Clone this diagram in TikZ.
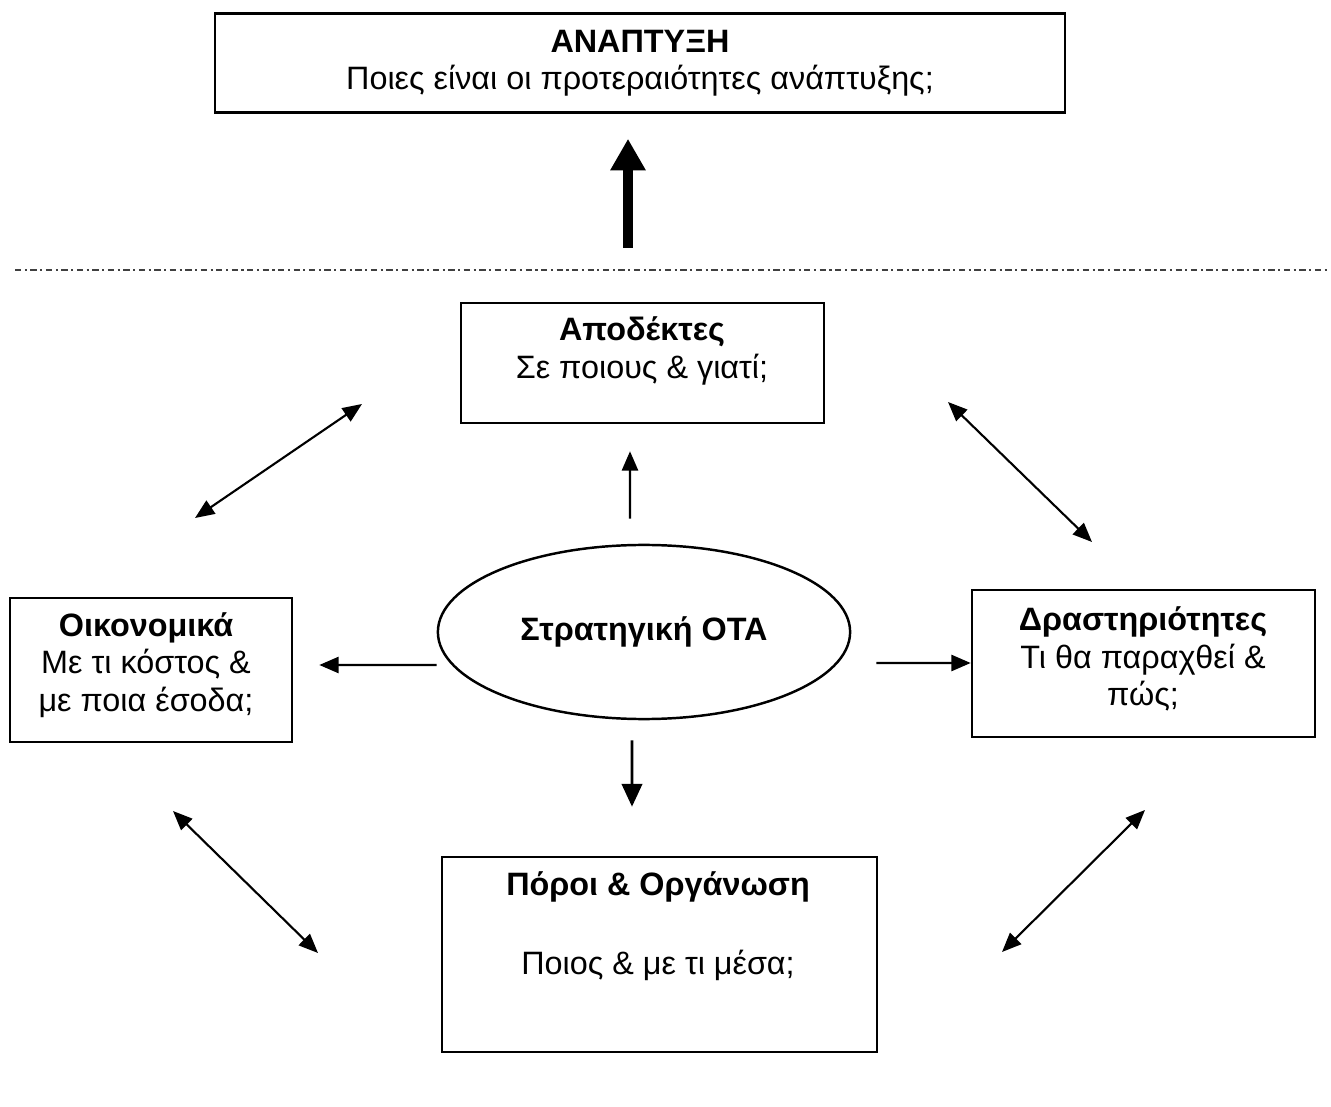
\documentclass[tikz,border=0pt]{standalone}
\usepackage{fontspec}
\setmainfont{Liberation Sans}
\usetikzlibrary{arrows.meta,shapes.geometric,positioning}
\begin{document}
\begin{tikzpicture}[x=0.01cm,y=-0.01cm,
  box/.style={draw,rectangle,line width=0.7pt,inner sep=0pt},
  txt/.style={align=center,font=\fontsize{9.2}{10.6}\selectfont,inner sep=0pt},
  arr/.style={-{Triangle[length=5.5pt,width=4.6pt]},line width=0.6pt},
  dbl/.style={{Triangle[length=5.5pt,width=4.5pt]}-{Triangle[length=5.5pt,width=4.5pt]},line width=0.6pt}]
\useasboundingbox (0,0) rectangle (1331,1107);
% top box
\node[box,minimum width=8.5cm,minimum height=0.99cm] (dev) at (640,63) {};
\node[txt] (devt) at (640,63) {\textbf{ΑΝΑΠΤΥΞΗ}\\Ποιες είναι οι προτεραιότητες ανάπτυξης;};
\coordinate (up0) at (628,248);
\draw[line width=2.8pt,-{Triangle[length=9pt,width=9.5pt]},shorten >=0.25cm] (up0) -- ([xshift=-0.12cm]dev.south);
\draw[line width=0.5pt,black!75,dash pattern=on 1.8pt off 1pt on 0.6pt off 1pt] (15,270) -- (1330,270);
% the four boxes
\node[box,minimum width=3.63cm,minimum height=1.2cm] (rcp) at (642.5,363) {};
\node[txt] (rcpt) at (642,351) {\textbf{Αποδέκτες}\\Σε ποιους \& γιατί;};
\node[box,minimum width=2.82cm,minimum height=1.44cm] (fin) at (151,670) {};
\node[txt] (fint) at (146,665) {\textbf{Οικονομικά}\\Με τι κόστος \&\\με ποια έσοδα;};
\node[box,minimum width=3.43cm,minimum height=1.47cm] (act) at (1143.5,663.5) {};
\node[txt] (actt) at (1143,659) {\textbf{Δραστηριότητες}\\Τι θα παραχθεί \&\\πώς;};
\node[box,minimum width=4.35cm,minimum height=1.95cm] (res) at (659.5,954.5) {};
\node[txt] (rest) at (658,887) {\textbf{Πόροι \& Οργάνωση}};
\node[txt] (resq) at (658,965) {Ποιος \& με τι μέσα;};
% centre
\node[draw,ellipse,line width=0.7pt,minimum width=4.12cm,minimum height=1.74cm,txt] (ota) at (644,632) {\textbf{Στρατηγική ΟΤΑ}};
\draw[arr,shorten <=0.25cm,shorten >=0.27cm] ([xshift=-0.14cm]ota.north) -- ([xshift=-0.125cm]rcp.south);
\draw[arr,shorten >=0.26cm] ([yshift=-0.33cm]ota.west) -- ([yshift=0.05cm]fin.east);
\draw[arr,shorten <=0.25cm] ([yshift=-0.31cm]ota.east) -- ([yshift=0.005cm]act.west);
\draw[arr,line width=0.8pt,-{Triangle[length=6.5pt,width=5.8pt]},shorten <=0.2cm,shorten >=0.49cm] ([xshift=-0.12cm]ota.south) -- ([xshift=-0.275cm]res.north);
% corner links
\coordinate (d1s) at (195,518);
\coordinate (d1e) at (362,404);
\coordinate (d2s) at (948,402);
\coordinate (d2e) at (1092,542);
\coordinate (d3s) at (173,811);
\coordinate (d3e) at (318,953);
\coordinate (d4s) at (1145,810);
\coordinate (d4e) at (1002,952);
\draw[dbl] (d1s) -- (d1e);
\draw[dbl] (d2s) -- (d2e);
\draw[dbl] (d3s) -- (d3e);
\draw[dbl] (d4s) -- (d4e);
\end{tikzpicture}
\end{document}
